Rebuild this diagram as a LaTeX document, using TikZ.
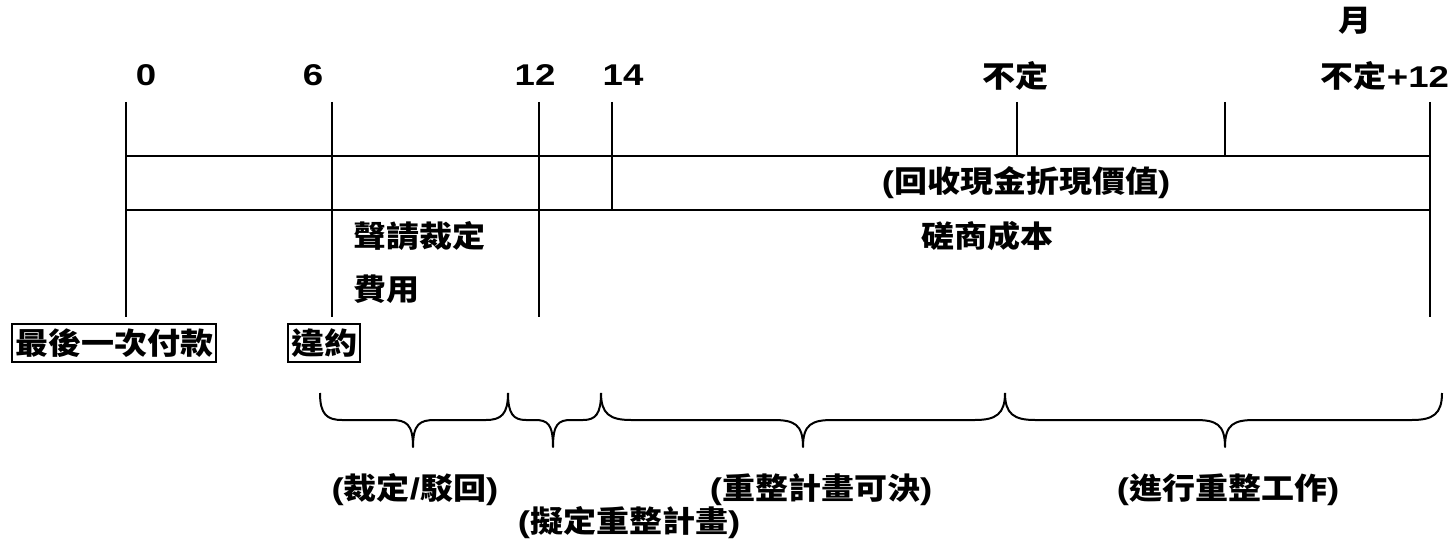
\documentclass[tikz,border=0pt]{standalone}
\usepackage{fontspec}
\setmainfont{Liberation Sans}[FakeStretch=1.22]
\newfontfamily\zhfont{Noto Sans CJK TC}[FakeStretch=1.1]
\newcommand\zh[1]{{\zhfont #1}}
% #1 left end, #2 right end, #3 tip, #4 curve radius
\newcommand\mybrace[4]{%
  \draw[bracepath] (#1,393) .. controls (#1,414) and (#1+#4*0.3,420) .. (#1+#4,420)
    -- (#3-#4,420) .. controls (#3-#4*0.3,420) and (#3,424) .. (#3,447)
    .. controls (#3,424) and (#3+#4*0.3,420) .. (#3+#4,420)
    -- (#2-#4,420) .. controls (#2-#4*0.3,420) and (#2,414) .. (#2,393);}
\begin{document}
\begin{tikzpicture}[x=1pt,y=-1pt,
  lbl/.style={inner sep=0pt, font=\fontsize{30}{34}\selectfont\bfseries},
  boxed/.style={lbl, draw, line width=2pt, inner xsep=3pt, inner ysep=5pt},
  tick/.style={line width=2pt},
  bracepath/.style={line width=2pt, line join=round}]
\useasboundingbox (0,0) rectangle (1456,548);
\fill[white] (0,0) rectangle (1456,548);

% tick positions
\coordinate (t0a) at (126,102);  \coordinate (t0b) at (126,317);
\coordinate (t6a) at (332,102);  \coordinate (t6b) at (332,317);
\coordinate (t12a) at (539,102); \coordinate (t12b) at (539,317);
\coordinate (t14a) at (612,102); \coordinate (t14b) at (612,210);
\coordinate (tua) at (1017,102); \coordinate (tub) at (1017,156);
\coordinate (tva) at (1225,102); \coordinate (tvb) at (1225,156);
\coordinate (twa) at (1430,102); \coordinate (twb) at (1430,317);
\coordinate (h1a) at (126,156);  \coordinate (h1b) at (1430,156);
\coordinate (h2a) at (126,210);  \coordinate (h2b) at (1430,210);

\draw[tick, line width=2.6pt] (t0a) -- (t0b);
\draw[tick] (t6a) -- (t6b);
\draw[tick] (t12a) -- (t12b);
\draw[tick] (t14a) -- (t14b);
\draw[tick] (tua) -- (tub);
\draw[tick] (tva) -- (tvb);
\draw[tick] (twa) -- (twb);
\draw[tick] (h1a) -- (h1b);
\draw[tick] (h2a) -- (h2b);

% axis labels
\node[lbl] (n0) at (146,75) {0};
\node[lbl] (n6) at (313,75) {6};
\node[lbl] (n12) at (535,75) {12};
\node[lbl] (n14) at (623,75) {14};
\node[lbl] (nu) at (1015,76) {\zh{不定}};
\node[lbl] (nu12) at (1385,76) {\zh{不定}+12};
\node[lbl] (month) at (1355,21) {\zh{月}};

% band texts
\node[lbl] (pv) at (1026,183) {(\zh{回收現金折現價值})};
\node[lbl] (neg) at (987,236) {\zh{磋商成本}};
\node[lbl, anchor=west] (fee1) at (353,236) {\zh{聲請裁定}};
\node[lbl, anchor=west] (fee2) at (353,289) {\zh{費用}};

% boxes
\node[boxed] (last) at (114,343) {\zh{最後一次付款}};
\node[boxed] (dflt) at (324,343) {\zh{違約}};

% braces
\mybrace{320}{508}{413}{22}
\mybrace{508}{601}{553}{18}
\mybrace{601}{1005}{803}{30}
\mybrace{1005}{1442}{1225}{30}

% brace labels
\node[lbl] (b1) at (415,490) {(\zh{裁定}/\zh{駁回})};
\node[lbl] (b2) at (629,523) {(\zh{擬定重整計畫})};
\node[lbl] (b3) at (821,490) {(\zh{重整計畫可決})};
\node[lbl] (b4) at (1228,490) {(\zh{進行重整工作})};
\end{tikzpicture}
\end{document}
